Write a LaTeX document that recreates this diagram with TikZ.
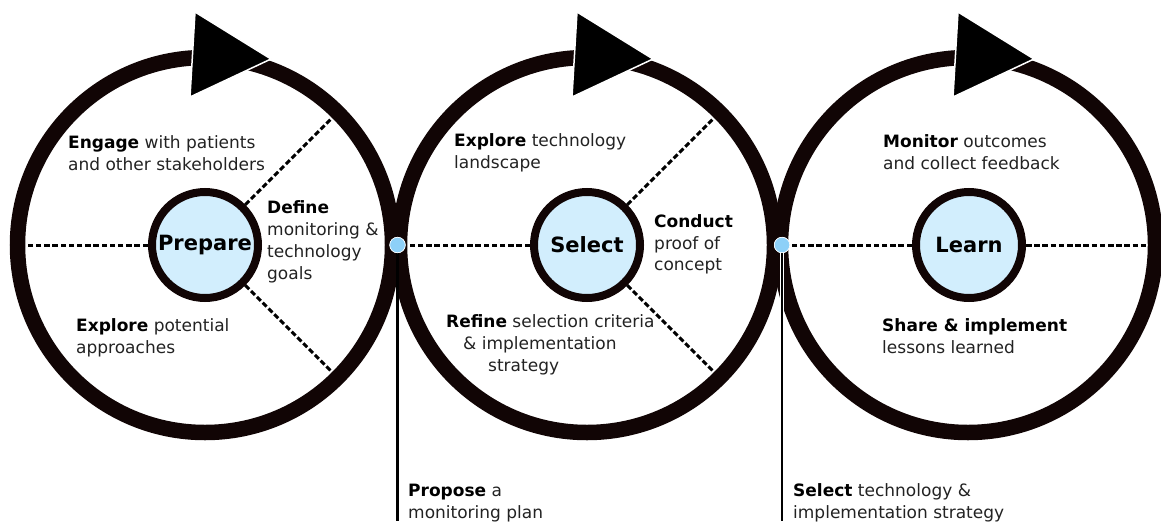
\documentclass[tikz,border=0pt]{standalone}
\usepackage{fontspec}
\setmainfont{DejaVu Sans}
\usetikzlibrary{backgrounds}
\definecolor{ringc}{HTML}{110505}
\definecolor{hubfill}{HTML}{D2EEFD}
\definecolor{dotblue}{HTML}{8DD0F8}
\definecolor{txt}{HTML}{222222}
\tikzset{
  ring/.style={circle, draw=ringc, line width=15.5pt, minimum size=375pt, inner sep=0pt},
  hub/.style={circle, draw=ringc, fill=hubfill, line width=8pt, minimum size=106pt, inner sep=0pt,
    font=\fontsize{21}{24}\selectfont\bfseries, text=black},
  sep/.style={dashed, dash pattern=on 5.5pt off 2.7pt, line width=3pt, black},
  head/.style={fill=black, draw=white, line width=1.5pt, line join=miter},
  junction/.style={circle, fill=dotblue, draw=white, line width=0.6pt, minimum size=15.5pt, inner sep=0pt},
  stem/.style={draw=white, double=black, double distance=2.2pt, line width=0.8pt},
  lab/.style={anchor=west, align=left, inner sep=0pt, text=txt, font=\fontsize{17}{21.8}\selectfont},
}
\begin{document}
\begin{tikzpicture}[x=1pt,y=-1pt]
\useasboundingbox (0,0) rectangle (1161,525);
% rings
\node[ring] (R1) at (205,245) {};
\node[ring] (R2) at (587,245) {};
\node[ring] (R3) at (968,245) {};
% arrowheads
\foreach \cx in {205,587,968}{
  \draw[head] (\cx-10,12) -- (\cx+66,59) -- (\cx-15,97) -- cycle;
}
% hubs
\node[hub] (P) at (205,245) {Prepare};
\node[hub] (S) at (587,245) {Select};
\node[hub] (L) at (969,245) {Learn};
% junction dots
\node[junction] (J1) at (397.5,245) {};
\node[junction] (J2) at (782,245) {};
\coordinate (E1) at (397.5,521);
\coordinate (E2) at (782,521);
\begin{scope}[on background layer]
  \draw[sep] (P.180) -- (R1.180);
  \draw[sep] (P.45) -- (R1.45);
  \draw[sep] (P.-45) -- (R1.-45);
  \draw[sep] (S.180) -- (J1);
  \draw[sep] (S.45) -- (R2.45);
  \draw[sep] (S.-45) -- (R2.-45);
  \draw[sep] (L.180) -- (J2);
  \draw[sep] (L.0) -- (R3.0);
\end{scope}
\draw[stem] (J1.south) -- (E1);
\draw[stem] (J2.south) -- (E2);
\node[junction] at (J1) {};
\node[junction] at (J2) {};
% labels
\node[lab] (t1) at (68,153.5) {\textbf{\color{black}Engage} with patients\\and other stakeholders};
\node[lab] (t2) at (267,242) {\textbf{\color{black}Define}\\monitoring \&\\technology\\goals};
\node[lab] (t3) at (76,337.5) {\textbf{\color{black}Explore} potential\\approaches};
\node[lab] (t4) at (454,152.5) {\textbf{\color{black}Explore} technology\\landscape};
\node[lab] (t5) at (654,244.5) {\textbf{\color{black}Conduct}\\proof of\\concept};
\node[lab] (t6) at (446,345) {\textbf{\color{black}Refine} selection criteria\\\hspace*{17pt}\& implementation\\\hspace*{42pt}strategy};
\node[lab] (t7) at (883,152.5) {\textbf{\color{black}Monitor} outcomes\\and collect feedback};
\node[lab] (t8) at (882,336) {\textbf{\color{black}Share \& implement}\\lessons learned};
\node[lab] (t9) at (408,503) {\textbf{\color{black}Propose} a\\monitoring plan};
\node[lab] (t10) at (793,503) {\textbf{\color{black}Select} technology \&\\implementation strategy};
\end{tikzpicture}
\end{document}
